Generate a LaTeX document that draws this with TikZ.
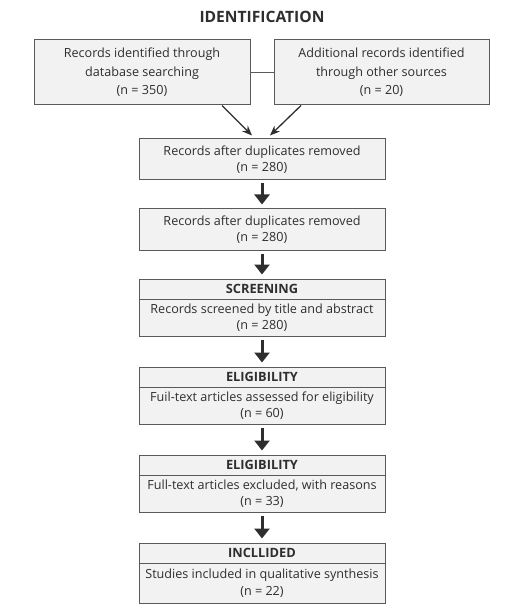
\documentclass[tikz,border=0pt]{standalone}
\usepackage{fontspec}
\setmainfont{Open Sans}
\usetikzlibrary{arrows.meta}
\definecolor{boxline}{HTML}{5A5A5A}
\definecolor{boxfill}{HTML}{F2F2F2}
\definecolor{textgray}{HTML}{2E2E2E}
\tikzset{
  box/.style={draw=boxline, fill=boxfill, line width=1pt, inner sep=0pt,
    align=center, text=textgray, font=\fontsize{12.6}{16.5}\selectfont},
  topbox/.style={box, minimum height=65pt, font=\fontsize{12.6}{18.5}\selectfont},
  midbox/.style={box, minimum width=246pt},
  headbox/.style={midbox, minimum height=20pt, font=\bfseries\fontsize{12.8}{14}\selectfont},
  thinarrow/.style={-{Stealth[length=10pt,width=8pt]}, line width=1.3pt, color=textgray},
  bigarrow/.style={-{Triangle[length=10pt,width=15pt]}, line width=3pt, color=textgray}
}
\begin{document}
\begin{tikzpicture}[x=1pt, y=-1pt]
    \useasboundingbox (0,0) rectangle (527,609);

    \node[font=\bfseries\fontsize{15.6}{17}\selectfont, text=textgray] (title) at (262,17) {IDENTIFICATION};

    \node[topbox, minimum width=216pt] (db) at (142,72.5)
      {Records identified through\\database searching\\(n = 350)};
    \node[topbox, minimum width=215pt] (other) at (381.5,72.5)
      {Additional records identified\\through other sources\\(n = 20)};

    \node[midbox, minimum height=41pt] (dup1) at (262,159.5)
      {Records after duplicates removed\\(n = 280)};
    \node[midbox, minimum height=41pt] (dup2) at (262,229.5)
      {Records after duplicates removed\\(n = 280)};

    \node[midbox, minimum height=37pt] (scrbody) at (262,317.5)
      {Records screened by title and abstract\\(n = 280)};
    \node[headbox] (scrhead) at (262,289) {SCREENING};

    \node[midbox, minimum height=37pt] (elibody) at (262,405.5)
      {Fuil-text articles assessed for eligibility\\(n = 60)};
    \node[headbox] (elihead) at (262,377) {ELIGIBILITY};

    \node[midbox, minimum height=37pt] (excbody) at (262,493.5)
      {Full-text articles excluded, with reasons\\(n = 33)};
    \node[headbox] (exchead) at (262,465) {ELIGIBILITY};

    \node[midbox, minimum height=40pt] (incbody) at (262,583)
      {Studies included in qualitative synthesis\\(n = 22)};
    \node[headbox] (inchead) at (262,553) {INCLLIDED};

    % top boxes
    \draw[line width=1pt, color=boxline] (db.east) -- (other.east -| other.west);
    \draw[thinarrow] ([xshift=80pt]db.south) -- ([shift={(-10pt,3pt)}]dup1.north);
    \draw[thinarrow] ([xshift=-80.5pt]other.south) -- ([shift={(8pt,3pt)}]dup1.north);

    % main column
    \draw[bigarrow] ([yshift=-3pt]dup1.south) -- ([yshift=4pt]dup2.north);
    \draw[bigarrow] ([yshift=-3pt]dup2.south) -- ([yshift=4pt]scrhead.north);
    \draw[bigarrow] ([yshift=-3pt]scrbody.south) -- ([yshift=4pt]elihead.north);
    \draw[bigarrow] ([yshift=-3pt]elibody.south) -- ([yshift=4pt]exchead.north);
    \draw[bigarrow] ([yshift=-3pt]excbody.south) -- ([yshift=4pt]inchead.north);

  \end{tikzpicture}
\end{document}
